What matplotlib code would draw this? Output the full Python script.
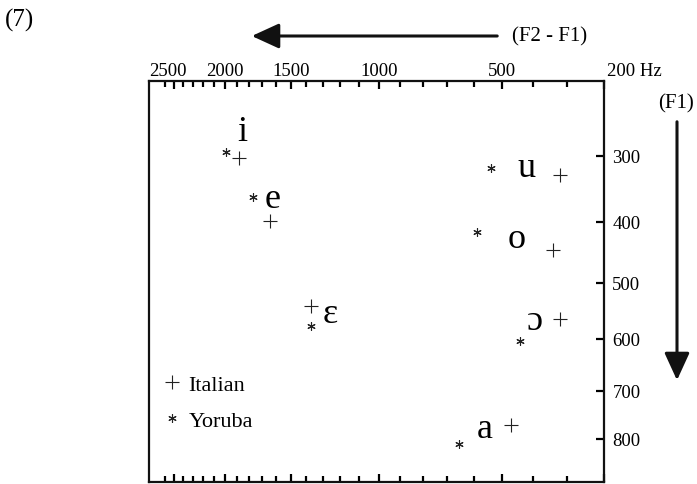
import numpy as np
import matplotlib
matplotlib.use("Agg")
import matplotlib.pyplot as plt
import matplotlib.transforms as mtransforms
from matplotlib.patches import FancyArrowPatch

plt.rcParams["font.family"] = ["Liberation Serif", "DejaVu Serif"]

# vowel chart data (Hz)
vowels = ["i", "e", "ɛ", "u", "o", "ɔ", "a"]
italian_f2f1 = [1880, 1645, 1370, 320, 340, 320, 470]
italian_f1 = [304, 399, 541, 329, 445, 563, 770]
yoruba_f2f1 = [1990, 1770, 1373, 537, 588, 443, 655]
yoruba_f1 = [294, 362, 576, 318, 416, 603, 811]
label_f2f1 = [1856, 1628, 1255, 420, 454, 396, 561]
label_f1 = [265, 364, 553, 317, 427, 566, 778]

x_major = [2500, 2000, 1500, 1000, 500, 200]
x_major_labels = ["2500", "2000", "1500", "1000", "500", "200 Hz"]
x_minor = [f for f in range(300, 2700, 100) if f not in x_major]
y_major = [300, 400, 500, 600, 700, 800]


def bark(f):
    f = np.asarray(f, dtype=float)
    return 26.81 * f / (1960.0 + f) - 0.53


def bark_inv(z):
    z = np.asarray(z, dtype=float)
    return 1960.0 * (z + 0.53) / (26.28 - z)


W, H = 697, 485
fig = plt.figure(figsize=(W / 100, H / 100), dpi=100)
# axes box in pixels: left 149, right 604, top 82, bottom 483
ax = fig.add_axes([149 / W, (H - 483) / H, (604 - 149) / W, (483 - 82) / H])

ax.set_xscale("function", functions=(bark, bark_inv))
ax.set_yscale("function", functions=(bark, bark_inv))
ax.set_xlim(2795, 200)
ax.set_ylim(896, 197)

ax.plot(italian_f2f1, italian_f1, linestyle="none", marker="+", ms=9.5, mew=0.8,
        color="#222222", label="Italian")
ax.plot(yoruba_f2f1, yoruba_f1, linestyle="none", marker=(6, 2, 0), ms=6, mew=0.8,
        color="#222222", label="Yoruba")

for v, xf, yf in zip(vowels, label_f2f1, label_f1):
    ax.text(xf, yf, v, fontsize=26, ha="center", va="center", color="black")

# ticks
ax.set_xticks(x_major)
ax.set_xticklabels(x_major_labels)
ax.set_xticks(x_minor, minor=True)
ax.xaxis.set_ticks_position("both")
ax.tick_params(axis="x", which="both", direction="in", top=True, bottom=True,
               labeltop=True, labelbottom=False, labelsize=13.5, pad=1.5)
ax.tick_params(axis="x", which="major", length=6, width=1.6)
ax.tick_params(axis="x", which="minor", length=4, width=1.6)

ax.set_yticks(y_major)
ax.set_yticklabels([str(v) for v in y_major])
ax.yaxis.set_minor_locator(matplotlib.ticker.NullLocator())
ax.tick_params(axis="y", which="major", direction="in", left=False, right=True,
               labelleft=False, labelright=True, labelsize=13.5, length=6,
               width=1.6, pad=6)

# nudge the first and last top labels like the printed figure
first = ax.get_xticklabels()[0]
first.set_transform(first.get_transform() +
                    mtransforms.ScaledTranslation(-6 / 100, 0, fig.dpi_scale_trans))
last = ax.get_xticklabels()[-1]
last.set_ha("left")
last.set_transform(last.get_transform() +
                   mtransforms.ScaledTranslation(3 / 100, 0, fig.dpi_scale_trans))

for s in ax.spines.values():
    s.set_linewidth(1.6)
    s.set_color("#111111")

leg = ax.legend(loc="upper left", bbox_to_anchor=(165 / W, 1 - 375 / H),
                bbox_transform=fig.transFigure, frameon=False, fontsize=16,
                handlelength=0.6, handletextpad=0.45, labelspacing=0.7,
                borderpad=0, borderaxespad=0)


def fpx(x, y):
    return (x / W, 1 - y / H)


# direction arrows and captions outside the box
arr1 = FancyArrowPatch(fpx(500, 37), fpx(249, 37), transform=fig.transFigure,
                       arrowstyle="-|>,head_length=1.2,head_width=0.55",
                       mutation_scale=14, lw=2.2, color="#111111")
fig.add_artist(arr1)
arr2 = FancyArrowPatch(fpx(677, 120), fpx(677, 384), transform=fig.transFigure,
                       arrowstyle="-|>,head_length=1.2,head_width=0.55",
                       mutation_scale=14, lw=2.2, color="#111111")
fig.add_artist(arr2)

fig.text(*fpx(550, 37), "(F2 - F1)", fontsize=15, ha="center", va="center")
fig.text(*fpx(676, 104), "(F1)", fontsize=15, ha="center", va="center")
fig.text(*fpx(5, 20), "(7)", fontsize=18, ha="left", va="center")

fig.savefig("out.png", dpi=100)
